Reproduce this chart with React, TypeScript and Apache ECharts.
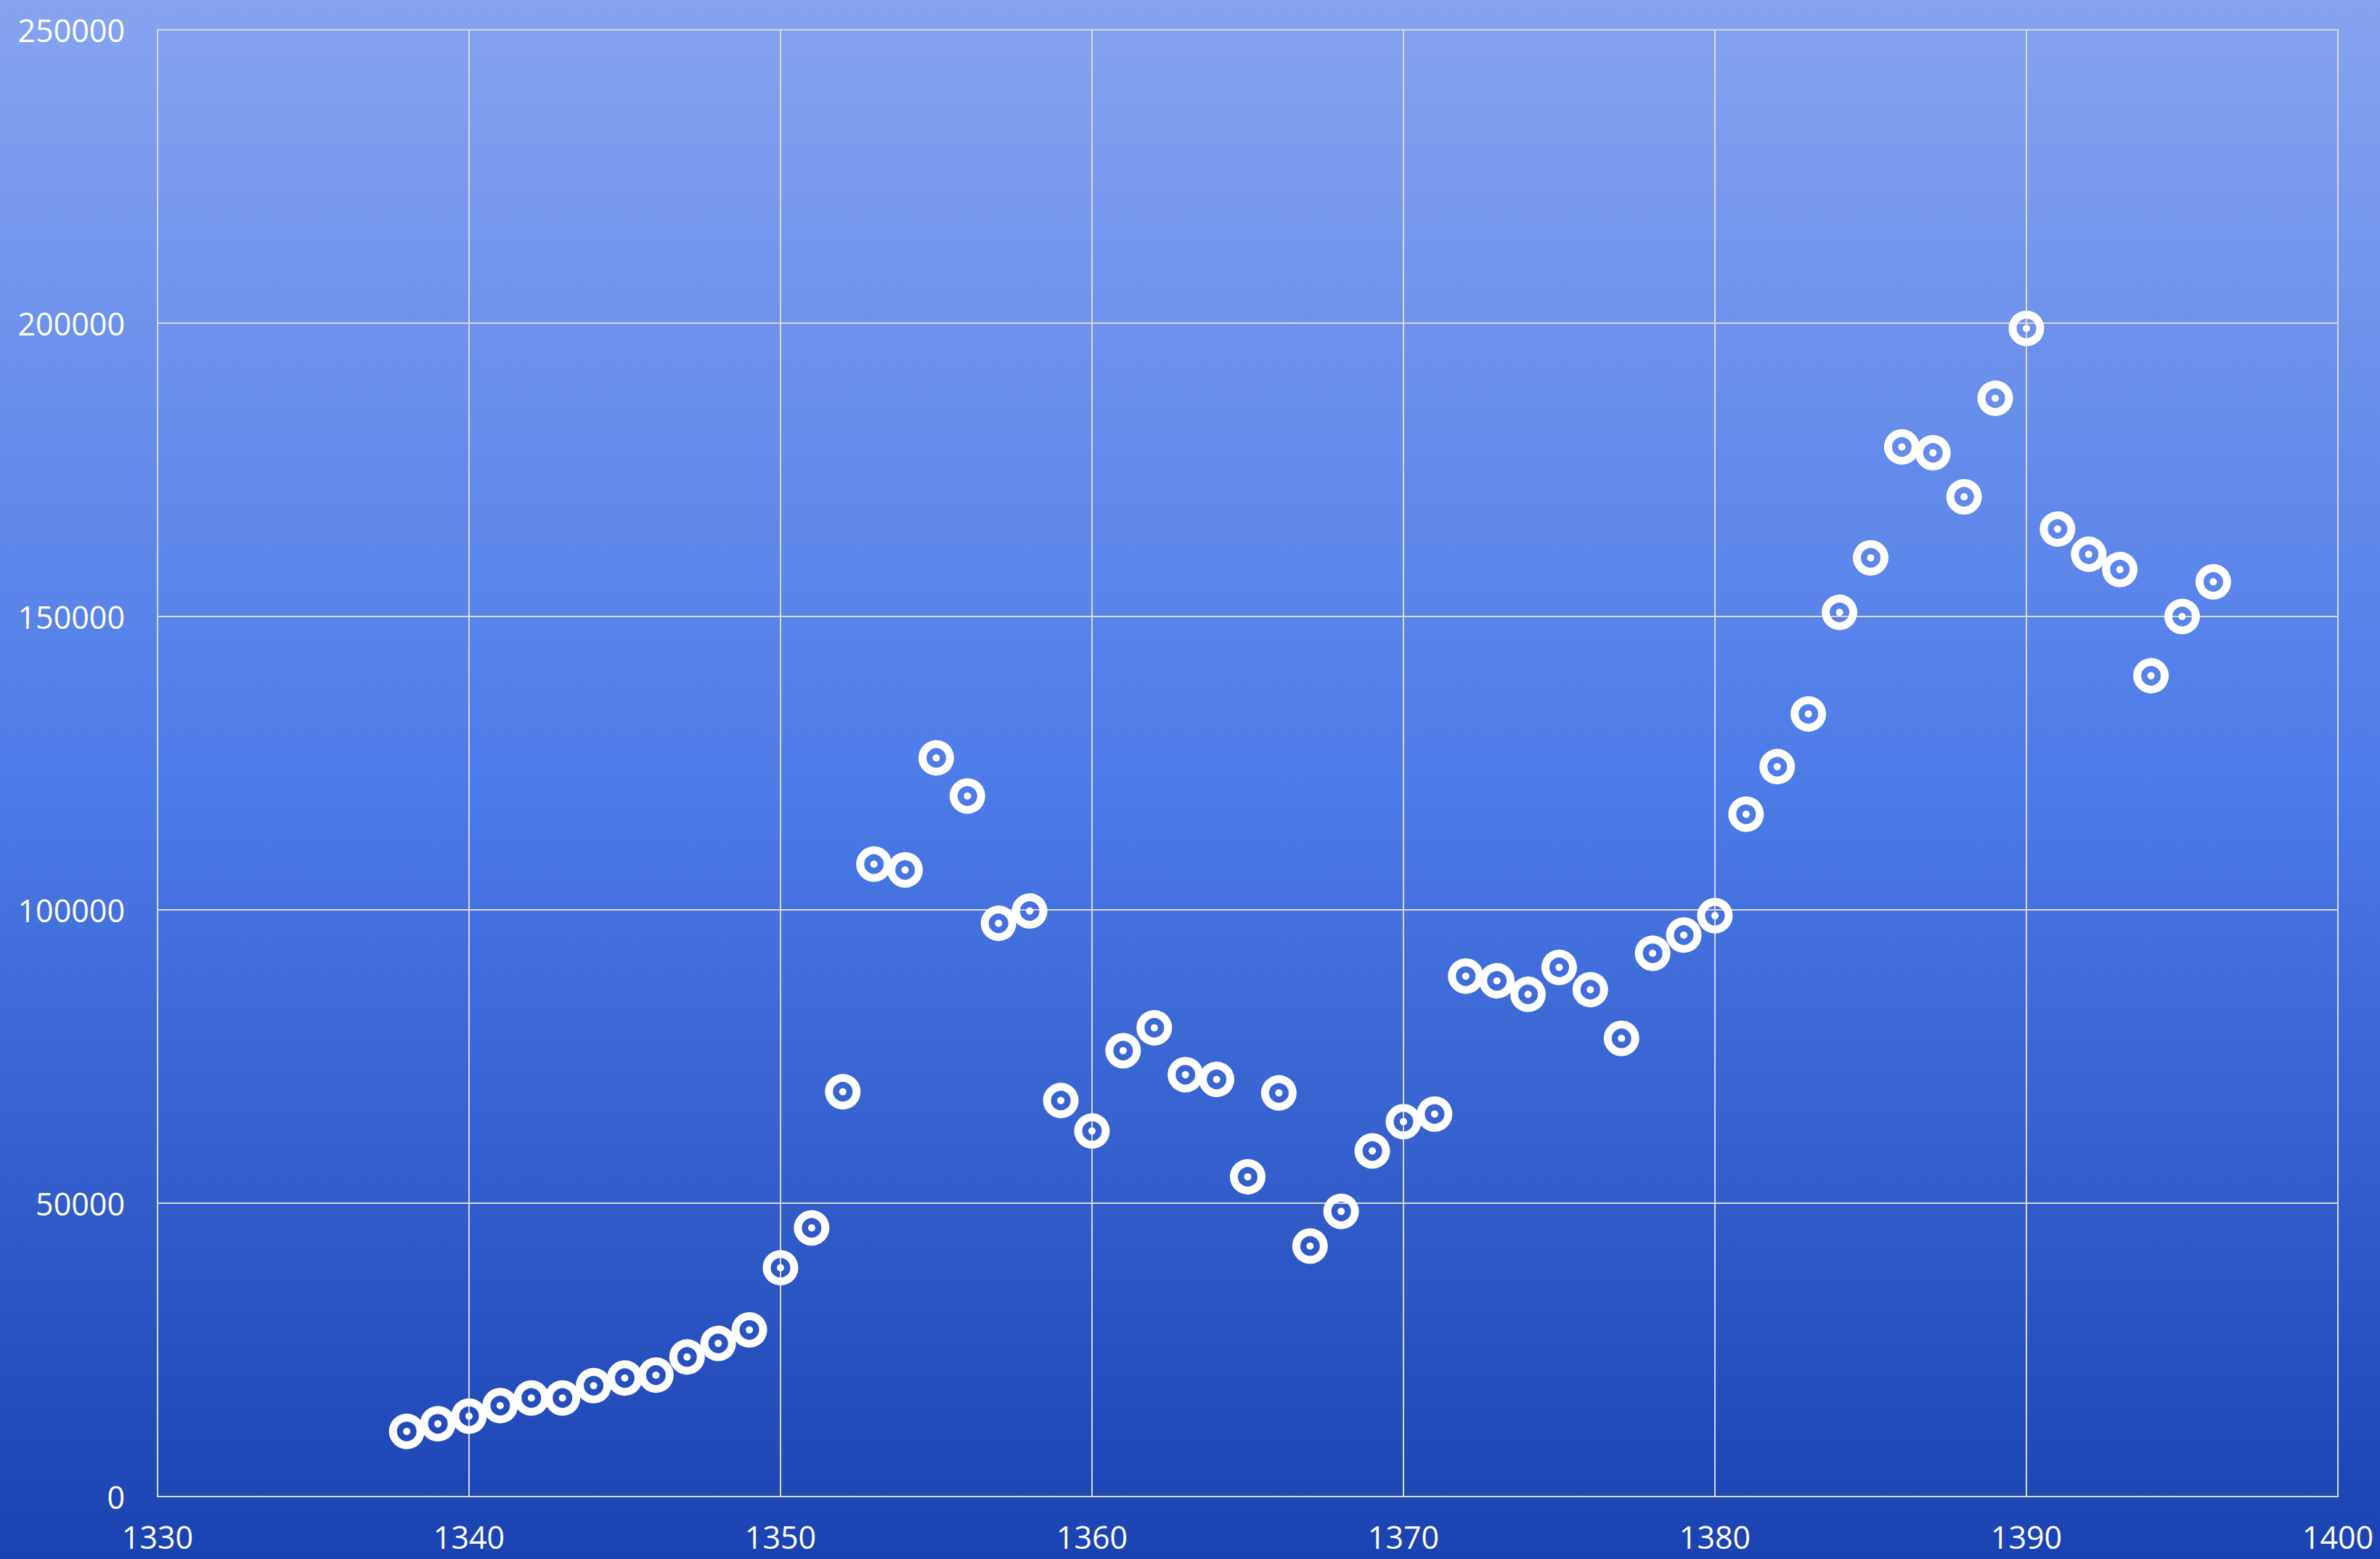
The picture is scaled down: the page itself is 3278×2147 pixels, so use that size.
import React, { useEffect, useRef } from "react";
import * as echarts from "echarts";

const years = [
  1338, 1339, 1340, 1341, 1342, 1343, 1344, 1345, 1346, 1347, 1348, 1349,
  1350, 1351, 1352, 1353, 1354, 1355, 1356, 1357, 1358, 1359, 1360, 1361,
  1362, 1363, 1364, 1365, 1366, 1367, 1368, 1369, 1370, 1371, 1372, 1373,
  1374, 1375, 1376, 1377, 1378, 1379, 1380, 1381, 1382, 1383, 1384, 1385,
  1386, 1387, 1388, 1389, 1390, 1391, 1392, 1393, 1394, 1395, 1396,
];

const values = [
  11100, 12400, 13700, 15500, 16800, 16800, 18900, 20200, 20700, 23800, 26100, 28400,
  39000, 45800, 69000, 107800, 106800, 125900, 119400, 97700, 99800, 67500, 62300, 76000,
  79900, 71900, 71100, 54500, 68800, 42700, 48600, 58900, 63900, 65200, 88700, 87900,
  85600, 90200, 86400, 78100, 92600, 95700, 99000, 116300, 124400, 133400, 150700, 160000,
  178900, 177900, 170400, 187200, 199100, 164900, 160600, 158000, 139900, 150000, 155900,
];

const xMin = 1330;
const xMax = 1400;
const xStep = 10;
const yMin = 0;
const yMax = 250000;
const yStep = 50000;

export default function App() {
  const ref = useRef<HTMLDivElement>(null);

  useEffect(() => {
    if (!ref.current) return;
    const chart = echarts.init(ref.current, null, { renderer: "svg" });
    const points = years.map((y, i) => [y, values[i]]);
    const font = "'Open Sans', 'Liberation Sans', sans-serif";
    chart.setOption({
      animation: false,
      backgroundColor: "transparent",
      grid: { left: 217, right: 58, top: 41, bottom: 86, containLabel: false },
      xAxis: {
        type: "value",
        min: xMin,
        max: xMax,
        interval: xStep,
        axisLine: { show: false },
        axisTick: { show: false },
        splitLine: { show: true, lineStyle: { color: "#D9D9D9", width: 2 } },
        axisLabel: {
          color: "#FFFFFF",
          fontSize: 43,
          fontFamily: font,
          margin: 34,
          showMaxLabel: true,
          showMinLabel: true,
          formatter: (v: number) => String(v),
        },
      },
      yAxis: {
        type: "value",
        min: yMin,
        max: yMax,
        interval: yStep,
        axisLine: { show: false },
        axisTick: { show: false },
        splitLine: { show: true, lineStyle: { color: "#D9D9D9", width: 2 } },
        axisLabel: {
          color: "#FFFFFF",
          fontSize: 43,
          fontFamily: font,
          margin: 45,
          formatter: (v: number) => String(v),
        },
      },
      graphic: [
        {
          type: "rect",
          shape: { x: 217, y: 41, width: 3003, height: 2020 },
          style: { fill: "none", stroke: "#D9D9D9", lineWidth: 2 },
          silent: true,
          z: 1,
        },
      ],
      series: [
        {
          type: "scatter",
          data: points,
          symbol: "circle",
          symbolSize: 38,
          itemStyle: { color: "rgba(0,0,0,0)", borderColor: "#FFFFFF", borderWidth: 11, opacity: 1 },
          z: 3,
        },
        {
          type: "scatter",
          data: points,
          symbol: "circle",
          symbolSize: 10,
          itemStyle: { color: "#FFFFFF", opacity: 1 },
          z: 4,
        },
      ],
    });
    return () => chart.dispose();
  }, []);

  return (
    <div
      style={{
        position: "fixed",
        left: 0,
        top: 0,
        width: 3278,
        height: 2147,
        background: "linear-gradient(to bottom, #86A3EF 0%, #4D7BE8 50%, #1A42B0 100%)",
      }}
    >
      <div ref={ref} style={{ width: 3278, height: 2147 }} />
    </div>
  );
}
